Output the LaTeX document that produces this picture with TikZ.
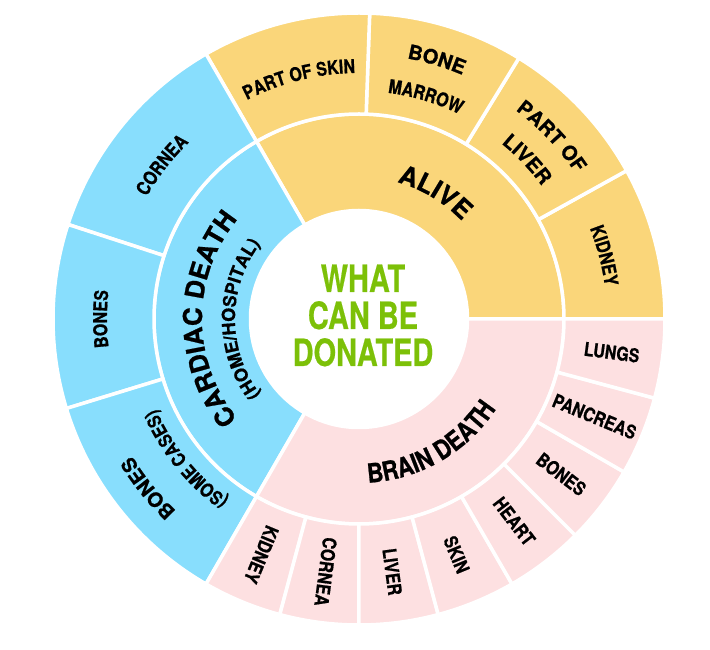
\documentclass[tikz,border=0pt]{standalone}
\usepackage{fontspec}
\usetikzlibrary{decorations.text}

\newfontfamily\herosnarrow[FakeStretch=0.84,FakeBold=0.8]{TeX Gyre Heros}
\newfontfamily\heroswide[FakeBold=0.8]{TeX Gyre Heros}
\newfontfamily\herostitle[FakeStretch=0.77,FakeBold=0.5]{TeX Gyre Heros}

\definecolor{alivecol}{RGB}{250,214,122}
\definecolor{cardiaccol}{RGB}{136,222,253}
\definecolor{braincol}{RGB}{253,224,225}
\definecolor{titlecol}{RGB}{124,192,8}

\newcommand{\outerfont}{\herosnarrow\bfseries\fontsize{19}{19}\selectfont}
\newcommand{\bigouterfont}{\heroswide\bfseries\fontsize{20}{20}\selectfont}
\newcommand{\innerfont}{\heroswide\bfseries\fontsize{26}{26}\selectfont}
\newcommand{\narrowinnerfont}{\herosnarrow\bfseries\fontsize{26.5}{26.5}\selectfont}
\newcommand{\subfont}{\heroswide\bfseries\fontsize{18}{18}\selectfont}

% ring piece: start angle, end angle, inner radius, outer radius, colour
\newcommand{\ringseg}[5]{%
  \filldraw[seg, fill=#5] (#1:#3pt) arc[start angle=#1, end angle=#2, radius=#3pt]
    -- (#2:#4pt) arc[start angle=#2, end angle=#1, radius=#4pt] -- cycle;}

% bent label, read clockwise: mid angle, baseline radius, font, text
\newcommand{\cwlabel}[4]{%
  \path[decorate, decoration={text along path, text align=center, text={|#3|#4}}]
    (#1+60:#2pt) arc[start angle=#1+60, end angle=#1-60, radius=#2pt];}
% bent label, read counter-clockwise
\newcommand{\ccwlabel}[4]{%
  \path[decorate, decoration={text along path, text align=center, text={|#3|#4}}]
    (#1-60:#2pt) arc[start angle=#1-60, end angle=#1+60, radius=#2pt];}

\begin{document}
\begin{tikzpicture}[
    seg/.style={
        draw=white,
        line width=3.5pt,
        line join=round
    },
    radlab/.style={
        font=\outerfont,
        inner sep=0pt
    },
    title/.style={
        font=\herostitle\bfseries\fontsize{37.6}{37}\selectfont,
        text=titlecol,
        align=center,
        inner sep=0pt
    }
]

\useasboundingbox (-359pt,-331pt) rectangle (351pt,319pt);

% inner ring
\ringseg{0}{120}{108.5}{205}{alivecol}
\ringseg{120}{240}{108.5}{205}{cardiaccol}
\ringseg{240}{360}{108.5}{205}{braincol}

% outer ring
\ringseg{0}{29}{205}{306}{alivecol}
\ringseg{29}{58.5}{205}{306}{alivecol}
\ringseg{58.5}{88}{205}{306}{alivecol}
\ringseg{88}{120}{205}{306}{alivecol}

\ringseg{120}{162}{205}{306}{cardiaccol}
\ringseg{162}{197}{205}{306}{cardiaccol}
\ringseg{197}{240}{205}{306}{cardiaccol}

\foreach \a in {240,255,...,345}
    \ringseg{\a}{\a+15}{205}{306}{braincol};

\node[title] (title) at (4pt,3.5pt) {WHAT\\CAN BE\\DONATED};

\cwlabel{59}{142}{\innerfont}{ALIVE}
\cwlabel{180}{157}{\innerfont}{CARDIAC DEATH}
\cwlabel{180}{124}{\subfont}{(HOME/HOSPITAL)}
\ccwlabel{300}{164}{\narrowinnerfont}{BRAIN DEATH}

\cwlabel{104}{246}{\outerfont}{PART OF SKIN}
\cwlabel{73.3}{265}{\bigouterfont}{BONE}
\cwlabel{73.3}{228}{\outerfont}{MARROW}
\cwlabel{43.5}{261}{\bigouterfont}{PART OF}
\cwlabel{43.5}{226}{\bigouterfont}{LIVER}
\cwlabel{14.5}{248}{\outerfont}{KIDNEY}

\cwlabel{142}{245}{\outerfont}{CORNEA}
\cwlabel{180}{252}{\outerfont}{BONES}
\cwlabel{218.7}{265}{\bigouterfont}{BONES}
\cwlabel{219}{222}{\outerfont}{(SOME CASES)}

\foreach \t [count=\i] in {KIDNEY,CORNEA,LIVER,SKIN,HEART,BONES,PANCREAS,LUNGS}
    \node[radlab, rotate=232.5+15*\i] (brain\i) at (232.5+15*\i:255pt) {\t};

\end{tikzpicture}
\end{document}
